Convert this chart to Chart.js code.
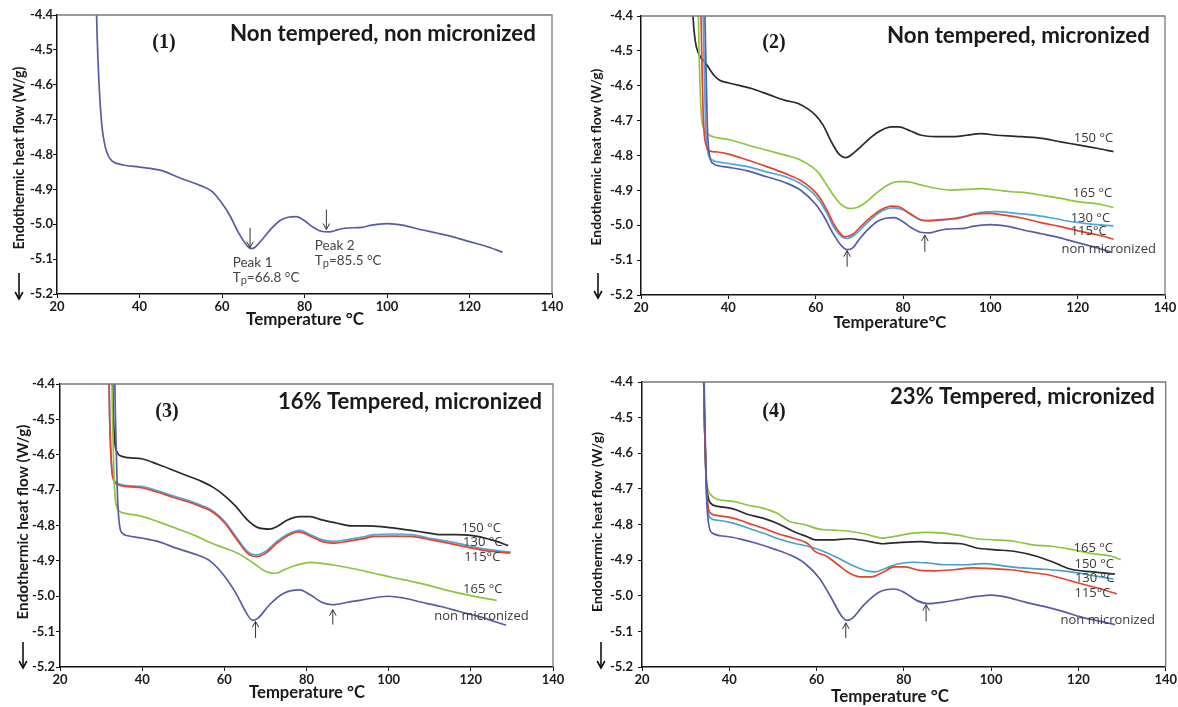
<!DOCTYPE html>
<html><head><meta charset="utf-8">
<script src="https://cdn.jsdelivr.net/npm/chart.js@4.4.1/dist/chart.umd.min.js"></script>
<style>
html,body{margin:0;padding:0;background:#fff;}
#wrap{position:relative;width:1178px;height:707px;overflow:hidden;background:#fff;}
canvas{position:absolute;}
</style></head><body><div id="wrap">
<canvas id="c1"></canvas><canvas id="c2"></canvas><canvas id="c3"></canvas><canvas id="c4"></canvas>
</div>
<script>
// ---------------- DATA ----------------
const xTicks = [20, 40, 60, 80, 100, 120, 140];
const yTicks = [-4.4, -4.5, -4.6, -4.7, -4.8, -4.9, -5.0, -5.1, -5.2];

// Panel 1: Non tempered, non micronized
const p1NonMicT = [29.4,29.7,30.2,30.9,31.7,32.5,33.3,36,40,45,50,55,57.5,60,62,64,66,67,68,70,72,74,76,78,80,82,84,86,88,90,94,96,100,104,108,112,116,120,124,128];
const p1NonMicV = [-4.3,-4.45,-4.6,-4.72,-4.778,-4.805,-4.818,-4.83,-4.836,-4.845,-4.868,-4.89,-4.905,-4.94,-4.977,-5.024,-5.06,-5.07,-5.066,-5.04,-5.012,-4.99,-4.98,-4.978,-4.99,-5.008,-5.02,-5.022,-5.016,-5.011,-5.009,-5.003,-4.998,-5.003,-5.015,-5.025,-5.036,-5.05,-5.063,-5.08];
const p1PeakT = [66.8, 85.3];
const p1PeakFrom = [-5.01, -4.958];
const p1PeakTo = [-5.067, -5.015];
const p1PeakName = ['Peak 1', 'Peak 2'];
const p1PeakTp = ['66.8 °C', '85.5 °C'];
const p1PeakTextT = [62.6, 82.5];
const p1PeakTextV1 = [-5.11, -5.06];
const p1PeakTextV2 = [-5.153, -5.105];

// Panel 2: Non tempered, micronized
const p2_150T = [31.6,31.9,32.4,33.2,34.9,36.7,38,40.1,45.3,49.6,53,56,60,61.7,63.4,65.2,66.9,68.6,70.3,73.8,77.3,79,81.6,84.2,87.6,91.9,94.5,98,101.4,105.8,111.8,116.1,120.4,124.7,128.2];
const p2_150V = [-4.3,-4.4,-4.47,-4.508,-4.537,-4.57,-4.584,-4.592,-4.608,-4.627,-4.642,-4.651,-4.685,-4.713,-4.756,-4.794,-4.806,-4.794,-4.775,-4.737,-4.718,-4.718,-4.729,-4.742,-4.746,-4.746,-4.742,-4.737,-4.742,-4.745,-4.751,-4.761,-4.77,-4.78,-4.789];
const p2_165T = [33.0,33.3,33.8,34.5,35.2,36.7,40.1,44.4,48.8,53.1,56.5,59.1,60.8,62.6,64.3,66,67.8,69.5,71.2,73.8,76.4,79,80.7,84.2,87.6,91.1,94.5,98,101.4,104.9,108.3,111.8,116.1,120.4,124.7,128.2];
const p2_165V = [-4.3,-4.5,-4.68,-4.725,-4.737,-4.747,-4.754,-4.77,-4.785,-4.799,-4.813,-4.832,-4.852,-4.886,-4.918,-4.942,-4.952,-4.949,-4.937,-4.909,-4.885,-4.875,-4.875,-4.885,-4.894,-4.899,-4.897,-4.895,-4.899,-4.904,-4.907,-4.914,-4.923,-4.933,-4.939,-4.949];
const p2_115T = [33.6,33.9,34.3,34.9,35.8,37.5,40.1,44.4,48.8,53.1,56.5,59.1,60.8,62.6,64.3,66,66.9,68.6,70.3,72.9,75.5,77.3,79,81.6,84.2,85.9,89.3,92.8,96.3,99.7,103.2,107.5,111.8,116.1,120.4,124.7,128.2];
const p2_115V = [-4.3,-4.5,-4.7,-4.77,-4.787,-4.79,-4.796,-4.813,-4.832,-4.852,-4.871,-4.895,-4.918,-4.957,-5.0,-5.028,-5.033,-5.025,-5.004,-4.974,-4.952,-4.945,-4.947,-4.966,-4.985,-4.987,-4.983,-4.98,-4.968,-4.966,-4.971,-4.98,-4.993,-5.004,-5.017,-5.028,-5.04];
const p2_130T = [34.1,34.4,34.8,35.3,36.2,37.5,40.1,44.4,48.8,53.1,56.5,59.1,60.8,62.6,64.3,66,67.3,68.6,70.3,72.9,75.5,77.7,79.8,82.4,84.6,86.8,90.2,93.7,98,101.4,105.8,110.1,114.4,118.7,123,128.2];
const p2_130V = [-4.3,-4.5,-4.72,-4.79,-4.812,-4.818,-4.823,-4.832,-4.847,-4.861,-4.88,-4.904,-4.928,-4.966,-5.009,-5.033,-5.038,-5.031,-5.012,-4.98,-4.957,-4.95,-4.955,-4.974,-4.987,-4.987,-4.983,-4.976,-4.963,-4.961,-4.966,-4.971,-4.98,-4.99,-4.997,-5.002];
const p2NonMicT = [34.5,34.8,35.2,35.7,36.5,38,40.1,44.4,48.8,53.1,56.5,60,62,64,66,67.2,68.5,70,72,74,76,78,80,82,84,86,88,90,94,96,100,104,108,112,116,120,124,127.8];
const p2NonMicV = [-4.3,-4.5,-4.72,-4.8,-4.823,-4.83,-4.834,-4.844,-4.861,-4.878,-4.899,-4.94,-4.977,-5.024,-5.06,-5.07,-5.065,-5.04,-5.012,-4.99,-4.98,-4.978,-4.99,-5.008,-5.02,-5.022,-5.016,-5.011,-5.009,-5.003,-4.998,-5.003,-5.015,-5.025,-5.036,-5.05,-5.063,-5.078];
const p2LabelText = ['150 °C', '165 °C', '130 °C', '115°C', 'non micronized'];
const p2LabelT = [119.1, 118.9, 118.4, 118.4, 116.3];
const p2LabelV = [-4.751, -4.908, -4.979, -5.016, -5.069];
const p2ArrowT = [67.2, 85.0];
const p2ArrowFrom = [-5.119, -5.076];
const p2ArrowTo = [-5.073, -5.028];

// Panel 3: 16% Tempered, micronized
const p3_150T = [32.7,32.9,33.3,34.0,34.7,36.5,40.1,43.8,47.4,51.1,54.6,57.4,60.1,62.8,65.6,68.2,71.0,72.8,75.5,78.3,80.9,83.7,87.3,90.9,94.5,98.2,101.8,105.5,109.0,112.7,116.3,120.0,123.6,126.3,129.1];
const p3_150V = [-4.3,-4.45,-4.56,-4.595,-4.603,-4.608,-4.612,-4.627,-4.643,-4.66,-4.676,-4.693,-4.716,-4.746,-4.784,-4.806,-4.81,-4.803,-4.784,-4.775,-4.775,-4.784,-4.793,-4.801,-4.801,-4.803,-4.808,-4.814,-4.82,-4.826,-4.826,-4.828,-4.836,-4.845,-4.857];
const p3_130T = [31.8,32.1,32.6,33.2,33.8,36.5,40.1,43.8,47.4,51.1,54.6,57.4,60.1,62.8,65.6,67.9,70.1,72.8,75.5,78.3,80.9,83.7,86.4,90.0,93.6,96.4,100.9,105.5,110.0,114.5,119.1,123.6,129.8];
const p3_130V = [-4.3,-4.5,-4.64,-4.672,-4.68,-4.687,-4.69,-4.702,-4.716,-4.729,-4.744,-4.76,-4.789,-4.831,-4.873,-4.883,-4.873,-4.845,-4.824,-4.814,-4.826,-4.84,-4.845,-4.84,-4.833,-4.826,-4.824,-4.826,-4.836,-4.845,-4.856,-4.867,-4.876];
const p3_115T = [31.8,32.1,32.6,33.2,33.8,36.5,40.1,43.8,47.4,51.1,54.6,57.4,60.1,62.8,65.6,67.9,70.1,72.8,75.5,78.3,80.9,83.7,86.4,90.0,93.6,96.4,100.9,105.5,110.0,114.5,119.1,123.6,129.5];
const p3_115V = [-4.3,-4.5,-4.64,-4.675,-4.683,-4.69,-4.694,-4.706,-4.72,-4.733,-4.748,-4.764,-4.793,-4.836,-4.878,-4.888,-4.878,-4.85,-4.828,-4.818,-4.83,-4.845,-4.85,-4.845,-4.838,-4.831,-4.83,-4.831,-4.84,-4.85,-4.861,-4.871,-4.878];
const p3_165T = [32.5,32.8,33.3,33.9,34.5,36.5,39.2,43.8,48.3,52.8,56.5,60.1,63.7,67.3,70.1,72.4,74.6,77.3,80.9,83.7,87.3,91.8,96.4,100.9,105.5,110.0,114.5,119.1,126.3];
const p3_165V = [-4.3,-4.5,-4.7,-4.75,-4.76,-4.767,-4.772,-4.789,-4.808,-4.828,-4.848,-4.864,-4.881,-4.908,-4.93,-4.935,-4.925,-4.913,-4.904,-4.907,-4.913,-4.923,-4.935,-4.947,-4.958,-4.97,-4.984,-4.996,-5.012];
const p3NonMicT = [33.2,33.5,34.0,34.5,35.2,36.5,40.1,43.8,48.3,52.8,56.5,60.1,62.8,65.6,66.9,68.2,71.0,74.6,78.3,80.9,83.7,86.4,90.0,93.6,100.0,103.6,108.1,112.7,117.2,121.8,128.6];
const p3NonMicV = [-4.3,-4.5,-4.72,-4.8,-4.822,-4.829,-4.836,-4.845,-4.864,-4.881,-4.9,-4.944,-4.991,-5.052,-5.068,-5.062,-5.024,-4.991,-4.982,-4.996,-5.017,-5.024,-5.017,-5.01,-5.0,-5.005,-5.017,-5.029,-5.043,-5.057,-5.082];
const p3LabelText = ['150 °C', '130 °C', '115°C', '165 °C', 'non micronized'];
const p3LabelT = [117.7, 118.1, 118.4, 118.1, 111.1];
const p3LabelV = [-4.808, -4.848, -4.889, -4.979, -5.058];
const p3ArrowT = [67.6, 86.4];
const p3ArrowFrom = [-5.118, -5.08];
const p3ArrowTo = [-5.071, -5.038];

// Panel 4: 23% Tempered, micronized
const p4_165T = [34.0,34.3,34.7,35.1,35.7,37.4,40.9,44.3,47.7,51.2,53.7,57.2,60.6,64,67.5,70.9,75.2,78.6,82.1,85.5,88.9,92.4,96.7,100.9,105.2,109.5,113.8,118.1,123.3,127.6,129.7];
const p4_165V = [-4.3,-4.5,-4.66,-4.7,-4.716,-4.73,-4.735,-4.746,-4.754,-4.77,-4.791,-4.8,-4.813,-4.816,-4.819,-4.826,-4.838,-4.832,-4.824,-4.822,-4.824,-4.83,-4.84,-4.843,-4.847,-4.857,-4.861,-4.869,-4.882,-4.889,-4.899];
const p4_150T = [34.0,34.3,34.7,35.1,35.7,37.4,40.9,44.3,47.7,51.2,54.6,58,59.7,63.2,67.5,70.9,75.2,79.5,83.8,88.1,93.2,96.7,100.9,105.2,110.4,114.7,118.1,123.3,128.4];
const p4_150V = [-4.3,-4.5,-4.67,-4.72,-4.74,-4.749,-4.756,-4.772,-4.782,-4.798,-4.819,-4.835,-4.843,-4.843,-4.84,-4.845,-4.854,-4.85,-4.848,-4.852,-4.854,-4.866,-4.871,-4.875,-4.889,-4.908,-4.925,-4.933,-4.939];
const p4_115T = [34.0,34.3,34.7,35.1,35.7,37.4,40.9,44.3,47.7,51.2,54.6,58,59.7,62.3,64.9,67.5,70,72.6,75.2,77.8,80.3,83.8,87.2,91.5,95.8,100.1,104.4,108.7,113,117.3,121.5,125.8,128.8];
const p4_115V = [-4.3,-4.5,-4.68,-4.745,-4.768,-4.775,-4.782,-4.796,-4.81,-4.826,-4.838,-4.854,-4.876,-4.889,-4.913,-4.936,-4.947,-4.947,-4.934,-4.919,-4.919,-4.929,-4.93,-4.927,-4.922,-4.924,-4.927,-4.934,-4.941,-4.955,-4.969,-4.983,-4.995];
const p4_130T = [34.0,34.3,34.7,35.1,35.7,37.4,40.9,44.3,47.7,51.2,54.6,58,61.5,64.9,68.3,71.8,73.5,76,78.6,82.1,85.5,89.8,94.1,98.4,102.7,107,111.2,115.5,119.8,124.1,128];
const p4_130V = [-4.3,-4.5,-4.69,-4.76,-4.782,-4.788,-4.796,-4.81,-4.824,-4.84,-4.852,-4.861,-4.875,-4.894,-4.915,-4.931,-4.933,-4.922,-4.911,-4.906,-4.908,-4.913,-4.913,-4.91,-4.916,-4.922,-4.925,-4.929,-4.936,-4.945,-4.953];
const p4NonMicT = [34.1,34.4,34.8,35.3,36.1,39.1,42.6,46,50.3,54.6,57.2,60.6,63.2,65.8,67,68.3,70.9,74.3,77.8,80.3,82.9,85.5,89,92.4,96.7,100.1,103.5,107.8,112.1,116.4,120.7,125,128.4];
const p4NonMicV = [-4.3,-4.5,-4.72,-4.8,-4.824,-4.833,-4.841,-4.852,-4.869,-4.889,-4.908,-4.95,-5.002,-5.058,-5.069,-5.062,-5.025,-4.99,-4.981,-4.992,-5.013,-5.022,-5.018,-5.011,-5.002,-4.998,-5.004,-5.018,-5.03,-5.044,-5.06,-5.072,-5.081];
const p4LabelText = ['165 °C', '150 °C', '130 °C', '115°C', 'non micronized'];
const p4LabelT = [118.9, 119.1, 119.2, 119.1, 115.9];
const p4LabelV = [-4.866, -4.911, -4.95, -4.992, -5.069];
const p4ArrowT = [66.7, 85.1];
const p4ArrowFrom = [-5.119, -5.072];
const p4ArrowTo = [-5.076, -5.025];

// ---------------- STYLE ----------------
const FAM = "Lato, 'Open Sans', sans-serif";
const FAM_TXT = "'Open Sans', sans-serif";
const C_NONMIC = '#575ca5';
const C_BLACK = '#2a2a2a';
const C_GREEN = '#8cc63e';
const C_RED = '#e8412e';
const C_BLUE = '#4aa7e0';
const C_TEAL = '#47a3c6';

function pts(T, V) { return T.map((t, i) => ({x: t, y: V[i]})); }

function fitFont(ctx, text, weight, fam, target) {
  ctx.font = weight + ' 20px ' + fam;
  const w = ctx.measureText(text).width;
  return 20 * target / w;
}

function drawArrow(ctx, x, y1, y2, head, lw, color) {
  ctx.save();
  ctx.strokeStyle = color; ctx.lineWidth = lw;
  ctx.beginPath(); ctx.moveTo(x, y1); ctx.lineTo(x, y2); ctx.stroke();
  const d = y2 > y1 ? 1 : -1;
  ctx.beginPath();
  ctx.moveTo(x - head * 0.55, y2 - d * head);
  ctx.lineTo(x, y2);
  ctx.lineTo(x + head * 0.55, y2 - d * head);
  ctx.stroke();
  ctx.restore();
}

function makePanel(cfg) {
  const cv = document.getElementById(cfg.id);
  cv.width = cfg.w; cv.height = cfg.h;
  cv.style.left = cfg.left + 'px'; cv.style.top = cfg.top + 'px';
  const a = cfg.area;
  const L = a.l - cfg.left, R = a.r - cfg.left, Tp = a.t - cfg.top, B = a.b - cfg.top;
  const ox = cfg.left, oy = cfg.top;

  const decor = {
    id: 'decor' + cfg.id,
    afterDraw(chart) {
      const ctx = chart.ctx;
      const ca = chart.chartArea;
      const xs = chart.scales.x, ys = chart.scales.y;
      ctx.save();
      // frame top/right
      ctx.strokeStyle = '#7a7a7a'; ctx.lineWidth = 1.3;
      ctx.beginPath();
      ctx.moveTo(ca.left, ca.top); ctx.lineTo(ca.right, ca.top); ctx.lineTo(ca.right, ca.bottom);
      ctx.stroke();
      // heading
      const hs = fitFont(ctx, cfg.heading, 'bold', FAM, cfg.headX2 - cfg.headX1);
      ctx.font = 'bold ' + hs + 'px ' + FAM;
      ctx.fillStyle = '#1a1a1a'; ctx.textAlign = 'left'; ctx.textBaseline = 'middle';
      ctx.fillText(cfg.heading, cfg.headX1 - ox, cfg.headY - oy);
      // panel number
      ctx.font = 'bold 20px "Liberation Serif", serif';
      ctx.textAlign = 'center';
      ctx.fillText(cfg.num, cfg.numX - ox, cfg.numY - oy);
      // y title
      const ys2 = fitFont(ctx, 'Endothermic heat flow (W/g)', 'bold', FAM, cfg.yTitleLen);
      ctx.save();
      ctx.translate(cfg.yTitleX - ox, cfg.yTitleY - oy);
      ctx.rotate(-Math.PI / 2);
      ctx.font = 'bold ' + ys2 + 'px ' + FAM;
      ctx.fillStyle = '#1a1a1a';
      ctx.textAlign = 'center'; ctx.textBaseline = 'middle';
      ctx.fillText('Endothermic heat flow (W/g)', 0, 0);
      ctx.restore();
      // x title
      const xs2 = fitFont(ctx, cfg.xTitle, 'bold', FAM, cfg.xTitleW);
      ctx.font = 'bold ' + xs2 + 'px ' + FAM;
      ctx.fillStyle = '#1a1a1a'; ctx.textAlign = 'center'; ctx.textBaseline = 'middle';
      ctx.fillText(cfg.xTitle, cfg.xTitleX - ox, cfg.xTitleY - oy);
      // endothermic arrow
      drawArrow(ctx, cfg.arrX - ox, cfg.arrY1 - oy, cfg.arrY2 - oy, 7, 1.6, '#111');
      // curve labels
      if (cfg.labels) {
        ctx.font = '13px ' + FAM_TXT;
        ctx.fillStyle = '#3a3a3a'; ctx.textAlign = 'left'; ctx.textBaseline = 'middle';
        cfg.labels.text.forEach((t, i) => {
          ctx.fillText(t, xs.getPixelForValue(cfg.labels.T[i]), ys.getPixelForValue(cfg.labels.V[i]));
        });
      }
      // peak arrows
      if (cfg.arrows) {
        cfg.arrows.T.forEach((t, i) => {
          drawArrow(ctx, xs.getPixelForValue(t), ys.getPixelForValue(cfg.arrows.from[i]), ys.getPixelForValue(cfg.arrows.to[i]), 6, 1, '#333');
        });
      }
      // peak text (panel 1)
      if (cfg.peaks) {
        const p = cfg.peaks;
        ctx.fillStyle = '#444'; ctx.textAlign = 'left'; ctx.textBaseline = 'middle';
        p.name.forEach((nm, i) => {
          const x0 = xs.getPixelForValue(p.textT[i]);
          ctx.font = '13.5px ' + FAM;
          ctx.fillText(nm, x0, ys.getPixelForValue(p.v1[i]));
          const y2 = ys.getPixelForValue(p.v2[i]);
          ctx.fillText('T', x0, y2);
          const wT = ctx.measureText('T').width;
          ctx.font = '11px ' + FAM;
          ctx.fillText('p', x0 + wT, y2 + 3);
          const wp = ctx.measureText('p').width;
          ctx.font = '13.5px ' + FAM;
          ctx.fillText('=' + p.tp[i], x0 + wT + wp, y2);
        });
      }
      ctx.restore();
    }
  };

  return new Chart(cv, {
    type: 'line',
    data: {
      datasets: cfg.series.map(s => ({
        data: pts(s.T, s.V), borderColor: s.color, borderWidth: 1.7,
        pointRadius: 0, fill: false, cubicInterpolationMode: 'monotone'
      }))
    },
    options: {
      responsive: false, animation: false, devicePixelRatio: 1,
      layout: {padding: {left: 0, top: Tp, right: cfg.w - R, bottom: 0}},
      plugins: {legend: {display: false}, tooltip: {enabled: false}},
      scales: {
        x: {
          type: 'linear', min: xTicks[0], max: xTicks[xTicks.length - 1],
          afterBuildTicks: s => { s.ticks = xTicks.map(v => ({value: v})); },
          ticks: {font: {family: FAM, size: 13, weight: 'bold'}, color: '#1a1a1a', padding: cfg.xPad, maxRotation: 0, autoSkip: false},
          grid: {drawOnChartArea: false, drawTicks: true, tickLength: 4, color: '#111'},
          border: {display: true, color: '#111', width: 1.5},
          afterFit: s => { s.height = cfg.h - B; }
        },
        y: {
          type: 'linear', min: yTicks[yTicks.length - 1], max: yTicks[0],
          afterBuildTicks: s => { s.ticks = yTicks.map(v => ({value: v})); },
          ticks: {font: {family: FAM, size: 13, weight: 'bold'}, color: '#1a1a1a', padding: cfg.yPad, callback: v => v.toFixed(1)},
          grid: {drawOnChartArea: false, drawTicks: true, tickLength: 4, color: '#111'},
          border: {display: true, color: '#111', width: 1.5},
          afterFit: s => { s.width = L; }
        }
      }
    },
    plugins: [decor]
  });
}

makePanel({
  id: 'c1', left: 0, top: 0, w: 590, h: 350, area: {l: 57, r: 552, t: 15, b: 294},
  xPad: 1, yPad: 0,
  heading: 'Non tempered, non micronized', headX1: 230, headX2: 536, headY: 34,
  num: '(1)', numX: 164, numY: 43,
  yTitleX: 19, yTitleY: 158, yTitleLen: 183,
  xTitle: 'Temperature °C', xTitleX: 305, xTitleY: 320, xTitleW: 118,
  arrX: 19, arrY1: 273, arrY2: 299,
  series: [{T: p1NonMicT, V: p1NonMicV, color: C_NONMIC}],
  arrows: {T: p1PeakT, from: p1PeakFrom, to: p1PeakTo},
  peaks: {name: p1PeakName, tp: p1PeakTp, textT: p1PeakTextT, v1: p1PeakTextV1, v2: p1PeakTextV2}
});

makePanel({
  id: 'c2', left: 590, top: 0, w: 588, h: 350, area: {l: 641, r: 1165, t: 16, b: 295},
  xPad: 1, yPad: 4,
  heading: 'Non tempered, micronized', headX1: 887, headX2: 1150, headY: 36,
  num: '(2)', numX: 774, numY: 43,
  yTitleX: 597, yTitleY: 157, yTitleLen: 177,
  xTitle: 'Temperature°C', xTitleX: 890, xTitleY: 323, xTitleW: 113,
  arrX: 598, arrY1: 273, arrY2: 298,
  series: [
    {T: p2NonMicT, V: p2NonMicV, color: C_NONMIC},
    {T: p2_115T, V: p2_115V, color: C_RED},
    {T: p2_130T, V: p2_130V, color: C_BLUE},
    {T: p2_165T, V: p2_165V, color: C_GREEN},
    {T: p2_150T, V: p2_150V, color: C_BLACK}
  ],
  labels: {text: p2LabelText, T: p2LabelT, V: p2LabelV},
  arrows: {T: p2ArrowT, from: p2ArrowFrom, to: p2ArrowTo}
});

makePanel({
  id: 'c3', left: 0, top: 355, w: 590, h: 352, area: {l: 60, r: 553, t: 384, b: 667},
  xPad: 1, yPad: 1,
  heading: '16% Tempered, micronized', headX1: 278, headX2: 542, headY: 402,
  num: '(3)', numX: 167, numY: 412,
  yTitleX: 23, yTitleY: 522, yTitleLen: 195,
  xTitle: 'Temperature °C', xTitleX: 307, xTitleY: 693, xTitleW: 116,
  arrX: 23, arrY1: 642, arrY2: 668,
  series: [
    {T: p3NonMicT, V: p3NonMicV, color: C_NONMIC},
    {T: p3_165T, V: p3_165V, color: C_GREEN},
    {T: p3_115T, V: p3_115V, color: C_RED},
    {T: p3_130T, V: p3_130V, color: C_BLUE},
    {T: p3_150T, V: p3_150V, color: C_BLACK}
  ],
  labels: {text: p3LabelText, T: p3LabelT, V: p3LabelV},
  arrows: {T: p3ArrowT, from: p3ArrowFrom, to: p3ArrowTo}
});

makePanel({
  id: 'c4', left: 590, top: 355, w: 588, h: 352, area: {l: 642, r: 1169, t: 382, b: 667},
  xPad: 1, yPad: 5,
  heading: '23% Tempered, micronized', headX1: 890, headX2: 1155, headY: 397,
  num: '(4)', numX: 774, numY: 412,
  yTitleX: 597, yTitleY: 522, yTitleLen: 180,
  xTitle: 'Temperature °C', xTitleX: 890, xTitleY: 697, xTitleW: 118,
  arrX: 601, arrY1: 642, arrY2: 668,
  series: [
    {T: p4NonMicT, V: p4NonMicV, color: C_NONMIC},
    {T: p4_115T, V: p4_115V, color: C_RED},
    {T: p4_130T, V: p4_130V, color: C_TEAL},
    {T: p4_150T, V: p4_150V, color: C_BLACK},
    {T: p4_165T, V: p4_165V, color: C_GREEN}
  ],
  labels: {text: p4LabelText, T: p4LabelT, V: p4LabelV},
  arrows: {T: p4ArrowT, from: p4ArrowFrom, to: p4ArrowTo}
});
</script>
</body></html>
